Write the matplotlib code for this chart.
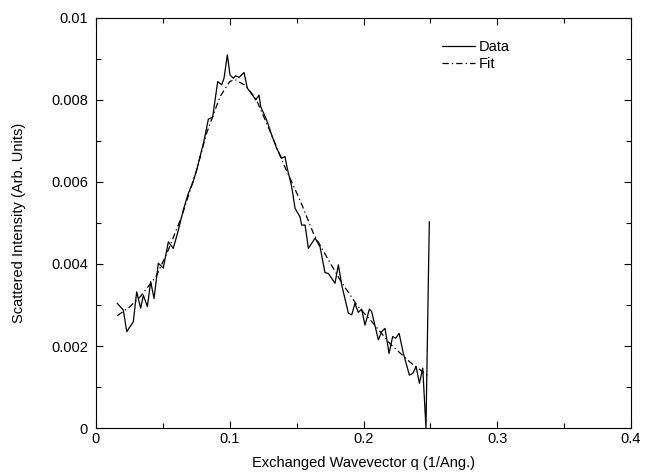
import matplotlib
matplotlib.use("Agg")
import matplotlib.pyplot as plt
from matplotlib.ticker import MultipleLocator, FormatStrFormatter

plt.rcParams["font.family"] = ["Liberation Sans", "DejaVu Sans"]

# ---- measured data (q in 1/Ang, intensity in arb. units) ----
q_data = [0.0159, 0.0204, 0.0230, 0.0279, 0.0304, 0.0334, 0.0354, 0.0384,
          0.0409, 0.0434, 0.0466, 0.0503, 0.0541, 0.0578, 0.0616, 0.0653,
          0.0690, 0.0720, 0.0753, 0.0780, 0.0803, 0.0840, 0.0872, 0.0910,
          0.0940, 0.0957, 0.0982, 0.1002, 0.1027, 0.1044, 0.1069, 0.1107,
          0.1131, 0.1171, 0.1194, 0.1219, 0.1231, 0.1276, 0.1313, 0.1351,
          0.1388, 0.1413, 0.1430, 0.1463, 0.1488, 0.1525, 0.1538, 0.1563,
          0.1588, 0.1638, 0.1675, 0.1712, 0.1737, 0.1787, 0.1812, 0.1837,
          0.1887, 0.1912, 0.1936, 0.1961, 0.1986, 0.2011, 0.2044, 0.2061,
          0.2111, 0.2136, 0.2161, 0.2191, 0.2218, 0.2241, 0.2266, 0.2298,
          0.2343, 0.2368, 0.2393, 0.2418, 0.2443, 0.2467, 0.2492]
i_data = [0.00304, 0.00288, 0.00235, 0.00259, 0.00332, 0.00292, 0.00324, 0.00296,
          0.00357, 0.00316, 0.00402, 0.00390, 0.00454, 0.00438, 0.00483, 0.00532,
          0.00572, 0.00595, 0.00629, 0.00665, 0.00694, 0.00753, 0.00758, 0.00845,
          0.00837, 0.00853, 0.00910, 0.00861, 0.00853, 0.00859, 0.00855, 0.00867,
          0.00829, 0.00812, 0.00800, 0.00812, 0.00784, 0.00751, 0.00715, 0.00682,
          0.00658, 0.00662, 0.00633, 0.00589, 0.00536, 0.00515, 0.00495, 0.00495,
          0.00438, 0.00463, 0.00442, 0.00379, 0.00377, 0.00353, 0.00398, 0.00349,
          0.00280, 0.00276, 0.00304, 0.00282, 0.00290, 0.00251, 0.00290, 0.00284,
          0.00215, 0.00235, 0.00243, 0.00182, 0.00223, 0.00219, 0.00231, 0.00182,
          0.00129, 0.00133, 0.00150, 0.00109, 0.00146, 0.00000, 0.00503]

# ---- fit curve ----
q_fit = [0.016, 0.025, 0.033, 0.045, 0.053, 0.064, 0.0753, 0.0827, 0.0927,
         0.100, 0.104, 0.1064, 0.112, 0.120, 0.130, 0.140, 0.1525, 0.1625,
         0.172, 0.1825, 0.195, 0.2074, 0.220, 0.235, 0.2492]
i_fit = [0.00274, 0.00295, 0.00320, 0.00370, 0.00426, 0.00515, 0.00630, 0.00719,
         0.00808, 0.00845, 0.00850, 0.00845, 0.00835, 0.00800, 0.00725, 0.00645,
         0.00556, 0.00475, 0.00420, 0.00361, 0.00300, 0.00255, 0.00205, 0.00160,
         0.00125]

FS = 10.5

fig = plt.figure(figsize=(6.46, 4.72), dpi=100, facecolor="white")
ax = fig.add_axes([0.1486, 0.0932, 0.8282, 0.8687])

ax.plot(q_data, i_data, color="black", linewidth=0.9, label="Data")
ax.plot(q_fit, i_fit, color="black", linewidth=0.9, linestyle="-.",
        dashes=(5, 2.5, 1, 2.5), label="Fit")

ax.set_xlim(0, 0.4)
ax.set_ylim(0, 0.01)
ax.xaxis.set_major_locator(MultipleLocator(0.1))
ax.xaxis.set_minor_locator(MultipleLocator(0.05))
ax.yaxis.set_major_locator(MultipleLocator(0.002))
ax.yaxis.set_minor_locator(MultipleLocator(0.001))
ax.xaxis.set_major_formatter(FormatStrFormatter("%g"))
ax.yaxis.set_major_formatter(FormatStrFormatter("%g"))
ax.tick_params(which="both", direction="in", top=True, right=True,
               labelsize=FS, width=0.8)
ax.tick_params(which="major", length=5)
ax.tick_params(which="minor", length=3.5)
ax.tick_params(axis="x", which="major", pad=3)
ax.tick_params(axis="y", which="major", pad=5.8)
for spine in ax.spines.values():
    spine.set_linewidth(0.8)

ax.set_xlabel("Exchanged Wavevector q (1/Ang.)", fontsize=FS, labelpad=7)
ax.set_ylabel("Scattered Intensity (Arb. Units)", fontsize=FS, labelpad=18)

ax.legend(loc="upper left", bbox_to_anchor=(0.646, 0.947), frameon=False,
          fontsize=FS, handlelength=2.28, handletextpad=0.3,
          borderpad=0, borderaxespad=0, labelspacing=0.25)

plt.savefig("out.png", dpi=100, facecolor=fig.get_facecolor())
